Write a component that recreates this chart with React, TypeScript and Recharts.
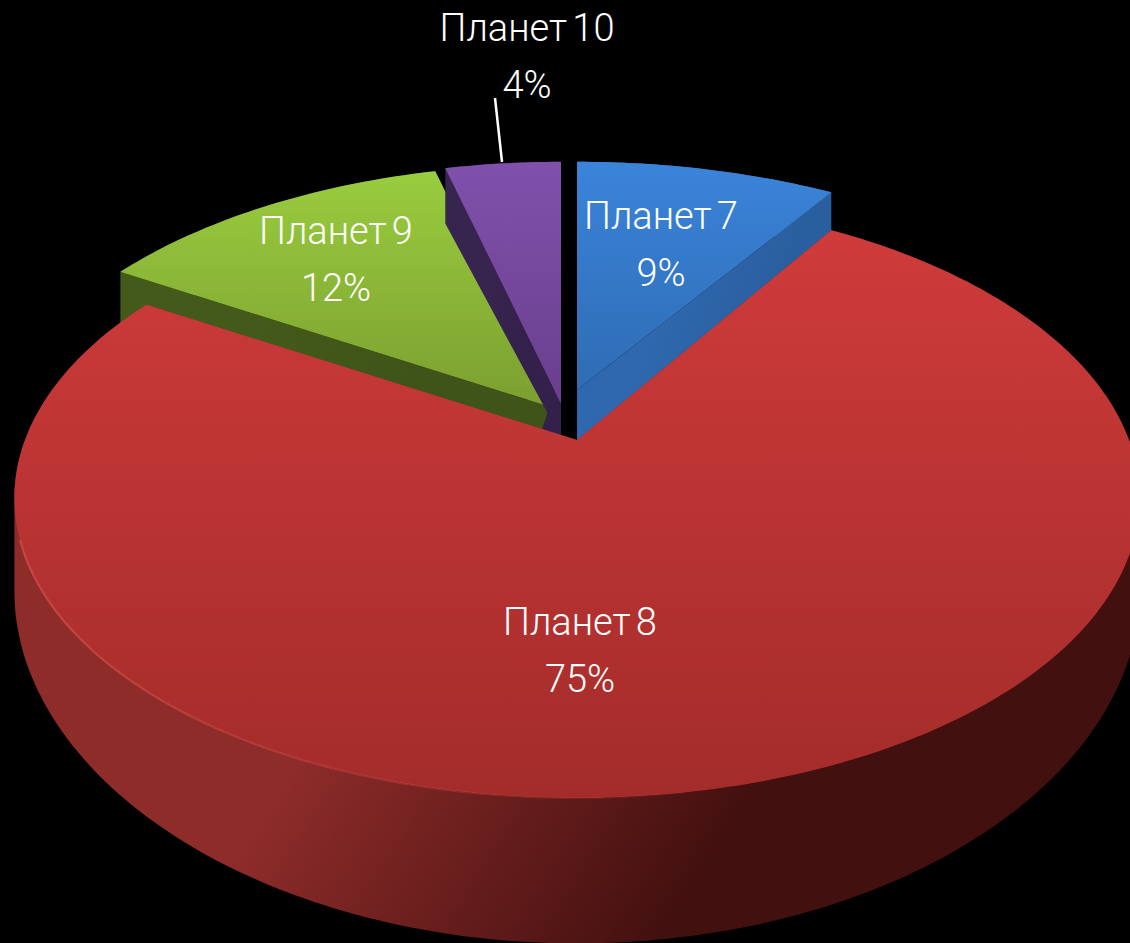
import React from "react";
import { PieChart, Pie } from "recharts";

// Clockwise from the left edge of "Планет 9" so that the front slice paints last.
const categories = ["Планет 9", "Планет 10", "Планет 7", "Планет 8"];
const values = [12.4, 4, 9, 74.6];
const chartData = categories.map((name, i) => ({ name, value: values[i] }));

const WIDTH = 1130;
const HEIGHT = 943;
const CX = 577;
const CY = 440;
const RADIUS = 552;
const Y_RATIO = 289 / 552;
const PERSPECTIVE = 0.193;
const RIM_DEPTH = 85;
const START_ANGLE = 90 + ((values[0] + values[1]) / 100) * 360;

const styles: Record<string, any> = {
  "Планет 7": { dx: 0, dy: -50, sy: 0.942, d0: 53, wing: 0, top: ["#3a84da", "#2f6cb4"], side: ["#2f68ae", "#2a5f9f"], labelX: 661, labelY: 229 },
  "Планет 8": { dx: 0, dy: 0, sy: 1, d0: 53, wing: 0, top: ["#cf3b3b", "#a32c2a"], side: ["#8e2c2a", "#42100f"], labelX: 580, labelY: 635 },
  "Планет 9": { dx: -26, dy: -33, sy: 1, d0: 34, wing: 0, top: ["#99cc3e", "#7c9f30"], side: ["#445a1a", "#3f5418"], labelX: 336, labelY: 244 },
  "Планет 10": { dx: -16, dy: -36, sy: 1, d0: 34, wing: 20, top: ["#8051ab", "#693e8e"], side: ["#37244f", "#33214b"], labelX: 527, labelY: 41 },
};

const LINE_GAP = 57;
const FONT = { fontFamily: "Roboto, 'Open Sans', sans-serif", fontWeight: 300, fontSize: 38, fill: "#ffffff" };

function project(angleDeg: number, frac: number, R: number, cx: number, cy: number, s: any) {
  const a = (angleDeg * Math.PI) / 180;
  const u = frac * Math.cos(a);
  const v = frac * Math.sin(a);
  const w = 1 + PERSPECTIVE * v;
  const depth = (s.d0 + (RIM_DEPTH - s.d0) * frac) / Math.pow(w, 2.5);
  const x = cx + s.dx + (R * u) / w;
  const y = cy + s.dy - (R * Y_RATIO * s.sy * v) / w;
  return { x, y, bx: x, by: y + depth };
}

function quad(a: any, b: any) {
  const pts = [
    [a.x, a.y],
    [b.x, b.y],
    [b.bx, b.by],
    [a.bx, a.by],
  ];
  let area = 0;
  for (let i = 0; i < 4; i++) {
    const p = pts[i];
    const q = pts[(i + 1) % 4];
    area += p[0] * q[1] - q[0] * p[1];
  }
  if (area < 0) pts.reverse();
  return "M" + pts.map((p) => p[0].toFixed(1) + " " + p[1].toFixed(1)).join("L") + "Z";
}

function Slice3D(props: any) {
  const { cx, cy, outerRadius, startAngle, endAngle, payload, name } = props;
  const key = payload?.name ?? name;
  const s = styles[key];
  const id = "slice" + categories.indexOf(key);
  const steps = Math.max(2, Math.ceil(Math.abs(endAngle - startAngle)));
  const rim: any[] = [];
  for (let i = 0; i <= steps; i++) {
    rim.push(project(startAngle + ((endAngle - startAngle) * i) / steps, 1, outerRadius, cx, cy, s));
  }
  const apex = project(0, 0, outerRadius, cx, cy, s);
  const outline = [apex, ...rim];
  let sidePath = "";
  outline.forEach((p, i) => {
    sidePath += quad(p, outline[(i + 1) % outline.length]);
  });
  const topPath = "M" + outline.map((p) => p.x.toFixed(1) + " " + p.y.toFixed(1)).join("L") + "Z";
  const wingPath = s.wing
    ? `M${apex.x} ${apex.y - 30}L${apex.bx} ${apex.by}L${apex.bx - s.wing} ${apex.by - 6}Z`
    : "";

  // Highlight line along the lower-left front rim of the large slice.
  const highlight = rim.filter((p) => p.x < 720 && p.y > 540);
  const highlightPath = highlight.length
    ? "M" + highlight.map((p) => p.x.toFixed(1) + " " + p.y.toFixed(1)).join("L")
    : "";

  return (
    <g>
      <defs>
        <linearGradient id={id + "top"} x1="0" y1="0" x2="0" y2="1">
          <stop offset="0" stopColor={s.top[0]} />
          <stop offset="1" stopColor={s.top[1]} />
        </linearGradient>
        <linearGradient id={id + "side"} x1="0" y1="0.35" x2="1" y2="0.75">
          <stop offset="0" stopColor={s.side[0]} />
          <stop offset="0.35" stopColor={s.side[0]} />
          <stop offset="0.72" stopColor={s.side[1]} />
          <stop offset="1" stopColor={s.side[1]} />
        </linearGradient>
        <linearGradient id={id + "hl"} gradientUnits="userSpaceOnUse" x1="20" y1="0" x2="720" y2="0">
          <stop offset="0" stopColor="#d9504c" stopOpacity="0.75" />
          <stop offset="1" stopColor="#d9504c" stopOpacity="0" />
        </linearGradient>
      </defs>
      <path d={sidePath} fill={`url(#${id}side)`} fillRule="nonzero" />
      {wingPath ? <path d={wingPath} fill={s.side[1]} /> : null}
      <path d={topPath} fill={`url(#${id}top)`} />
      {key === "Планет 8" && highlightPath ? (
        <path d={highlightPath} fill="none" stroke={`url(#${id}hl)`} strokeWidth={2} />
      ) : null}
    </g>
  );
}

function SliceLabel(props: any) {
  const key = props.payload?.name ?? props.name;
  const value = props.payload?.value ?? props.value;
  const s = styles[key];
  return (
    <g>
      <text x={s.labelX} y={s.labelY} textAnchor="middle" wordSpacing={-4} {...FONT}>
        {key}
      </text>
      <text x={s.labelX} y={s.labelY + LINE_GAP} textAnchor="middle" {...FONT}>
        {Math.round(value) + "%"}
      </text>
      {key === "Планет 10" ? (
        <line x1={495} y1={98} x2={502} y2={162} stroke="#ffffff" strokeWidth={2.5} />
      ) : null}
    </g>
  );
}

export default function App() {
  return (
    <div style={{ position: "fixed", left: 0, top: 0, width: WIDTH, height: HEIGHT, background: "#000", overflow: "hidden" }}>
      <PieChart width={WIDTH} height={HEIGHT} margin={{ top: 0, right: 0, bottom: 0, left: 0 }}>
        <Pie
          data={chartData}
          dataKey="value"
          nameKey="name"
          cx={CX}
          cy={CY}
          innerRadius={0}
          outerRadius={RADIUS}
          startAngle={START_ANGLE}
          endAngle={START_ANGLE - 360}
          paddingAngle={0}
          stroke="none"
          isAnimationActive={false}
          shape={Slice3D}
          label={SliceLabel}
          labelLine={false}
        />
      </PieChart>
    </div>
  );
}
